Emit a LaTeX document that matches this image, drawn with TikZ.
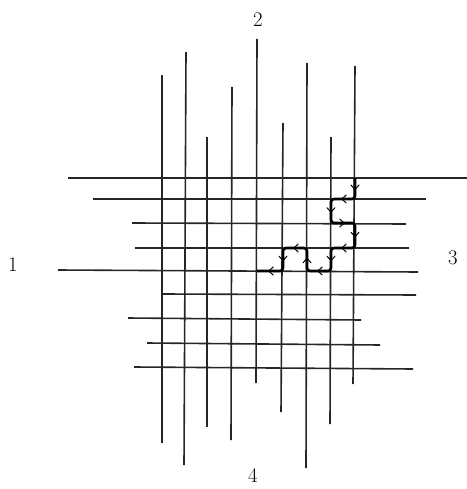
\documentclass[tikz,border=0pt]{standalone}
\usetikzlibrary{decorations.markings}

\begin{document}
\begin{tikzpicture}[
  x=1pt, y=-1pt,
  gridline/.style={line width=1.6pt, black!85},
  walk/.style={line width=2.6pt, line join=round, rounded corners=3pt},
  midarr/.style={decorate, decoration={markings,
      mark=at position #1 with {\draw[line width=1pt, line cap=round]
        (-4.5pt,-4pt) -- (0pt,0pt) -- (-4.5pt,4pt);}}},
  midarr/.default=0.55,
  lbl/.style={font=\huge}
]
\useasboundingbox (0,0) rectangle (466,489);

% vertical lines: top x / bottom x / top y / bottom y
\foreach \xa/\xb/\ya/\yb in {162/162/75/443, 186/184/52/465, 207/207/137/427,
    232/231/87/440, 257/256/39/383, 283/281/123/412, 307/306/63/468,
    331/330/137/424, 355/353/66/384}
  \draw[gridline] (\xa,\ya) -- (\xb,\yb);

% horizontal lines: left x / right x / left y / right y
\foreach \xa/\xb/\ya/\yb in {68/467/178/178, 93/426/199/199, 132/406/223/224,
    135/409/248/248, 58/418/270/272, 163/416/294/295, 128/361/318/320,
    147/380/343/345, 134/413/367/369}
  \draw[gridline] (\xa,\ya) -- (\xb,\yb);

% the walk
\coordinate (p0) at (355,178);
\coordinate (p1) at (355,199);
\coordinate (p2) at (331,199);
\coordinate (p3) at (331,223);
\coordinate (p4) at (355,223);
\coordinate (p5) at (355,248);
\coordinate (p6) at (331,248);
\coordinate (p7) at (331,271);
\coordinate (p8) at (307,271);
\coordinate (p9) at (307,248);
\coordinate (p10) at (283,248);
\coordinate (p11) at (283,271);
\coordinate (p12) at (257,271);

\draw[walk] (p0) -- (p1) -- (p2) -- (p3) -- (p4) -- (p5) -- (p6) -- (p7)
  -- (p8) -- (p9) -- (p10) -- (p11) -- (p12);
\foreach \a/\b in {p0/p1,p1/p2,p2/p3,p3/p4,p4/p5,p5/p6,p6/p7,p7/p8,
    p8/p9,p9/p10,p10/p11,p11/p12}
  \path[midarr] (\a) -- (\b);

\node[lbl] (one) at (13,265) {1};
\node[lbl] (two) at (258,20) {2};
\node[lbl] (three) at (453,258) {3};
\node[lbl] (four) at (253,476) {4};
\end{tikzpicture}
\end{document}
